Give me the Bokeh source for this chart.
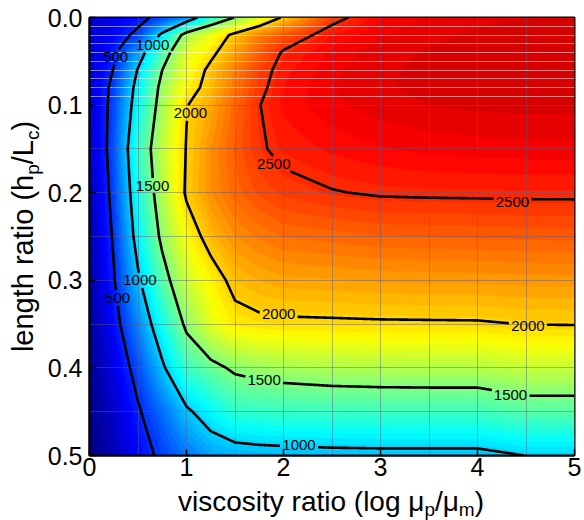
import math
import numpy as np
from bokeh.plotting import figure
from bokeh.layouts import row, column
from bokeh.models import (Range1d, LinearColorMapper, FixedTicker, PrintfTickFormatter,
                          Grid, ColumnDataSource)
from bokeh.core.properties import value
from bokeh.embed import file_html
from bokeh.resources import INLINE
from contourpy import contour_generator, LineType

# ---------------- data ----------------
x_grid = [0, 0.25, 0.5, 0.75, 1.0, 1.25, 1.5, 1.75, 2.0, 2.5, 3.0, 3.5, 4.0, 4.5, 5.0]
y_grid = [0, 0.02, 0.04, 0.06, 0.08, 0.10, 0.15, 0.20, 0.25, 0.30, 0.35, 0.40, 0.45, 0.50]

row_000 = [220, 300, 420, 590, 800, 1250, 1510, 1760, 2030, 2440, 2620, 2680, 2710, 2720, 2720]
row_002 = [230, 380, 560, 1060, 1620, 1820, 2060, 2250, 2380, 2580, 2670, 2710, 2725, 2730, 2730]
row_004 = [240, 460, 860, 1350, 1800, 1950, 2150, 2350, 2520, 2640, 2700, 2725, 2735, 2740, 2740]
row_006 = [240, 510, 1020, 1500, 1840, 2050, 2250, 2430, 2560, 2660, 2710, 2730, 2740, 2745, 2745]
row_008 = [240, 570, 1100, 1580, 1900, 2080, 2280, 2460, 2580, 2670, 2715, 2730, 2740, 2745, 2745]
row_010 = [230, 590, 1150, 1620, 1990, 2130, 2320, 2495, 2590, 2660, 2700, 2720, 2730, 2735, 2735]
row_015 = [200, 620, 1280, 1700, 2010, 2200, 2350, 2480, 2540, 2590, 2620, 2640, 2650, 2655, 2655]
row_020 = [170, 580, 1200, 1660, 2030, 2200, 2320, 2400, 2450, 2492, 2515, 2520, 2522, 2525, 2525]
row_025 = [140, 530, 1110, 1560, 1880, 2080, 2200, 2260, 2300, 2320, 2340, 2345, 2350, 2355, 2360]
row_030 = [110, 480, 960, 1390, 1735, 1900, 2060, 2110, 2140, 2150, 2165, 2170, 2172, 2180, 2183]
row_035 = [80, 400, 780, 1180, 1550, 1800, 1930, 1960, 1970, 1975, 1980, 1982, 1984, 2003, 2006]
row_040 = [50, 300, 600, 960, 1300, 1430, 1540, 1580, 1610, 1640, 1650, 1655, 1656, 1710, 1710]
row_045 = [30, 220, 470, 700, 960, 1120, 1260, 1280, 1290, 1300, 1309, 1310, 1310, 1380, 1380]
row_050 = [0, 170, 380, 560, 720, 850, 890, 910, 920, 935, 940, 940, 940, 1002, 1005]

contour_levels = [500, 1000, 1500, 2000, 2500]

label_x = [0.27, 0.65, 1.04, 0.65, 1.90, 4.36, 0.52, 0.29, 1.95, 4.52, 1.80, 4.34, 2.16]
label_y = [0.045, 0.031, 0.109, 0.192, 0.167, 0.211, 0.300, 0.320, 0.338, 0.352, 0.414, 0.431, 0.488]
label_text = ["500", "1000", "2000", "1500", "2500", "2500", "1000", "500", "2000", "2000",
              "1500", "1500", "1000"]

x_ticks = [0, 1, 2, 3, 4, 5]
y_ticks = [0.0, 0.1, 0.2, 0.3, 0.4, 0.5]
color_low, color_high = 0, 3000

x_title = [("viscosity ratio (log μ", False), ("p", True), ("/μ", False), ("m", True), (")", False)]
y_title = [("length ratio (h", False), ("p", True), ("/L", False), ("c", True), (")", False)]

Z = np.array([row_000, row_002, row_004, row_006, row_008, row_010, row_015, row_020,
              row_025, row_030, row_035, row_040, row_045, row_050], dtype=float)
X = np.array(x_grid, dtype=float)
Y = np.array(y_grid, dtype=float)

# ---------------- layout constants (absolute page pixels) ----------------
W, H = 584, 520
YL_W = 44              # width of the y-title strip
MAIN_H = 485           # height of the main figure
XL_H = H - MAIN_H      # height of the x-title strip
FL, FT, FR = 87, 17, 10
FB_ABS = 455
FW = W - FL - FR
FH = FB_ABS - FT
XMAX, YMAX = 5.0, 0.5
FONT = "Liberation Sans"

# ---------------- jet palette ----------------
def jet(n):
    cols = []
    for i in range(n):
        t = (i + 0.5) / n
        r = min(max(1.5 - abs(4 * t - 3), 0), 1)
        g = min(max(1.5 - abs(4 * t - 2), 0), 1)
        b = min(max(1.5 - abs(4 * t - 1), 0), 1)
        cols.append("#%02x%02x%02x" % (int(r * 255), int(g * 255), int(b * 255)))
    return cols

mapper = LinearColorMapper(palette=jet(64), low=color_low, high=color_high)

# ---------------- bilinear raster of the field ----------------
fx = (np.arange(FW) + 0.5) / FW * XMAX
fy = (np.arange(FH) + 0.5) / FH * YMAX
tmp = np.array([np.interp(fx, X, Z[j]) for j in range(len(Y))])
field = np.empty((FH, FW))
for c in range(FW):
    field[:, c] = np.interp(fy, Y, tmp[:, c])

p = figure(width=W - YL_W, height=MAIN_H, output_backend="svg", toolbar_location=None,
           title=None, x_range=Range1d(0, XMAX), y_range=Range1d(YMAX, 0),
           min_border_left=FL - YL_W, min_border_right=FR, min_border_top=FT,
           min_border_bottom=MAIN_H - FB_ABS)
p.background_fill_color = "white"
p.border_fill_color = "white"

p.image(image=[field], x=0, y=0, dw=XMAX, dh=YMAX, color_mapper=mapper, level="image")

# mesh lines
p.xgrid.ticker = FixedTicker(ticks=[0.5 * i for i in range(1, 10)])
p.ygrid.ticker = FixedTicker(ticks=[0.05 * i for i in range(2, 10)])
p.grid.grid_line_color = "#5a5a8c"
p.grid.grid_line_alpha = 0.45
p.grid.grid_line_width = 1
p.add_layout(Grid(dimension=1, ticker=FixedTicker(ticks=[0.01 * i for i in range(1, 10)]),
                  grid_line_color="white", grid_line_alpha=0.5, grid_line_width=1))

# ---------------- contour lines with gaps at labels ----------------
cg = contour_generator(x=X, y=Y, z=Z, line_type=LineType.Separate)
sx, sy = FW / XMAX, FH / YMAX
boxes = []
for lx, ly, lt in zip(label_x, label_y, label_text):
    hw = (len(lt) * 0.556 * 15) / 2 + 2
    hh = 7.5
    boxes.append((lx - hw / sx, lx + hw / sx, ly - hh / sy, ly + hh / sy))

def densify(arr):
    pts = [arr[0]]
    for a, b in zip(arr[:-1], arr[1:]):
        d = math.hypot((b[0] - a[0]) * sx, (b[1] - a[1]) * sy)
        n = max(1, int(d / 0.5))
        t = np.linspace(0, 1, n + 1)[1:]
        pts.extend(a + (b - a) * t[:, None])
    return np.array(pts)

xs, ys = [], []
for lev in contour_levels:
    for line in cg.lines(lev):
        d = densify(np.asarray(line))
        keep = np.ones(len(d), dtype=bool)
        for (x0, x1, y0, y1) in boxes:
            keep &= ~((d[:, 0] > x0) & (d[:, 0] < x1) & (d[:, 1] > y0) & (d[:, 1] < y1))
        run = []
        for k, pt in zip(keep, d):
            if k:
                run.append(pt)
            else:
                if len(run) > 1:
                    arr = np.array(run)
                    xs.append(arr[:, 0].tolist()); ys.append(arr[:, 1].tolist())
                run = []
        if len(run) > 1:
            arr = np.array(run)
            xs.append(arr[:, 0].tolist()); ys.append(arr[:, 1].tolist())

p.multi_line(xs=xs, ys=ys, line_color="black", line_width=2.6)

lab_src = ColumnDataSource(dict(x=label_x, y=label_y, text=label_text))
p.text(x="x", y="y", text="text", source=lab_src, text_font=value(FONT),
       text_font_size="15px", text_align="center", text_baseline="middle", text_color="black")

# ---------------- axes ----------------
p.xaxis.ticker = FixedTicker(ticks=x_ticks)
p.yaxis.ticker = FixedTicker(ticks=y_ticks)
p.yaxis.formatter = PrintfTickFormatter(format="%.1f")
for ax in (p.xaxis, p.yaxis):
    ax.major_label_text_font = FONT
    ax.major_label_text_font_size = "25px"
    ax.major_label_text_color = "black"
    ax.major_tick_in = 6
    ax.major_tick_out = 0
    ax.major_tick_line_width = 1.5
    ax.minor_tick_line_color = None
    ax.axis_line_width = 2
    ax.axis_line_color = "black"
p.xaxis.major_label_standoff = 2
p.yaxis.major_label_standoff = 7
p.outline_line_color = "black"
p.outline_line_width = 2

# ---------------- axis titles with subscripts (own strips, page-pixel ranges) ----------------
CW = {' ': 278, '(': 333, ')': 333, '/': 278, 'a': 556, 'c': 500, 'e': 556, 'g': 556,
      'h': 556, 'i': 222, 'l': 222, 'n': 556, 'o': 556, 'p': 556, 'r': 333, 's': 500,
      't': 278, 'v': 500, 'y': 500, 'L': 556, 'm': 833, 'μ': 576}
SMALL = 19
MID = 0.35   # distance from baseline to the middle of the text box, in em

def tw(s, size):
    return sum(CW.get(ch, 556) for ch in s) / 1000.0 * size

def strip(width, height, xr, yr, left=0, right=0, top=0, bottom=0):
    f = figure(width=width, height=height, output_backend="svg", toolbar_location=None,
               title=None, x_range=xr, y_range=yr, x_axis_type=None, y_axis_type=None,
               min_border_left=left, min_border_right=right,
               min_border_top=top, min_border_bottom=bottom)
    f.outline_line_color = None
    f.grid.visible = False
    f.background_fill_color = "white"
    f.border_fill_color = "white"
    return f

# x title: page pixels, frame spans x 87..574, y 485..520 (y grows downward)
BIG_X, SUB_X, BASE_X = 28, 5, 510.5
xl = strip(W, XL_H, Range1d(FL, FL + FW), Range1d(H, MAIN_H), left=FL, right=FR)
pieces = [(s, SMALL if sub else BIG_X, sub) for s, sub in x_title]
total = sum(tw(s, sz) for s, sz, _ in pieces)
cur = (FL + FW / 2) - total / 2
tx, ty, tt, ts = [], [], [], []
for s, sz, sub in pieces:
    base = BASE_X + (SUB_X if sub else 0)
    tx.append(cur); ty.append(base - MID * sz); tt.append(s); ts.append(f"{sz}px")
    cur += tw(s, sz)
xl.text(x=tx, y=ty, text=tt, text_font_size=ts, text_font=value(FONT), text_align="left",
        text_baseline="middle", text_color="black")

# y title: page pixels, frame spans x 0..44, y 17..455 (y grows downward), rotated text
BIG_Y, SUB_Y, BASE_Y = 29, 6, 33
yl = strip(YL_W, MAIN_H, Range1d(0, YL_W), Range1d(FB_ABS, FT), top=FT, bottom=MAIN_H - FB_ABS)
pieces = [(s, SMALL if sub else BIG_Y, sub) for s, sub in y_title]
total = sum(tw(s, sz) for s, sz, _ in pieces)
cur = (FT + FH / 2) + total / 2
tx, ty, tt, ts = [], [], [], []
for s, sz, sub in pieces:
    base = BASE_Y + (SUB_Y if sub else 0)
    tx.append(base - MID * sz); ty.append(cur); tt.append(s); ts.append(f"{sz}px")
    cur -= tw(s, sz)
yl.text(x=tx, y=ty, text=tt, text_font_size=ts, text_font=value(FONT), text_align="left",
        text_baseline="middle", text_color="black", angle=math.pi / 2)

layout = column(row(yl, p, spacing=0), xl, spacing=0)
open("out.html", "w").write(file_html(layout, INLINE))
